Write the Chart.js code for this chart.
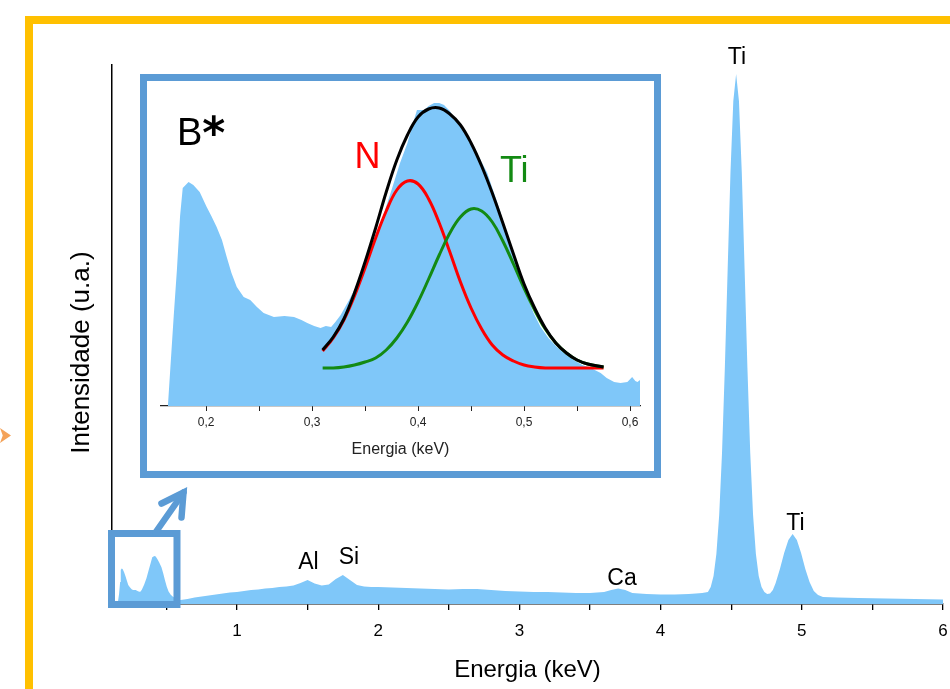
<!DOCTYPE html>
<html>
<head>
<meta charset="utf-8">
<script src="https://cdn.jsdelivr.net/npm/chart.js@4"></script>
<style>
html,body{margin:0;padding:0;background:#fff;overflow:hidden;width:950px;height:689px;}
#frame{position:absolute;left:25px;top:16px;width:1000px;height:1000px;border:8px solid #FFC000;box-sizing:border-box;}
#main{position:absolute;left:0;top:0;}
#insetBox{position:absolute;left:140px;top:74px;width:507px;height:390px;border:7px solid #5B9BD5;background:#fff;}
#inset{display:block;}
#orange{position:absolute;left:0;top:428px;width:11px;height:15px;background:#F4A35A;clip-path:polygon(0 0,100% 50%,0 100%,25% 50%);}
</style>
</head>
<body>
<div id="frame"></div>
<div id="orange"></div>
<canvas id="main" width="950" height="689"></canvas>
<div id="insetBox"><canvas id="inset" width="507" height="390"></canvas></div>
<script>
// ---------- main EDS spectrum (energy in keV, intensity in a.u.) ----------
const mainEnergy = [
  0.155,0.165,0.1725,0.177,0.1835,0.19,0.2,0.21,0.22,0.23,0.2417,0.254,0.264,0.283,0.2955,0.308,0.318,0.327,0.343,0.359,
  0.375,0.39,0.4,0.4151,0.4245,0.437,0.4495,0.4653,0.478,0.4906,0.503,0.5156,0.531,0.547,0.563,0.5723,0.585,0.6,
  0.65,0.7,0.75,0.8,0.85,0.9,0.95,1.0,1.05,1.1,1.15,1.2,1.25,1.3,1.35,1.4,1.45,1.5,1.55,1.6,1.65,1.7,1.75,1.8,1.85,1.9,1.95,2.0,2.1,2.2,
  2.3,2.4,2.5,2.6,2.7,2.8,2.9,3.0,3.1,3.2,3.3,3.4,3.5,3.6,3.65,3.7,3.75,3.8,3.9,4.0,4.1,4.2,4.25,4.295,
  4.335,4.355,4.375,4.395,4.415,4.435,4.455,4.475,4.495,4.515,4.535,4.555,4.575,4.595,4.615,4.635,4.655,4.675,4.695,4.715,4.735,4.755,4.775,
  4.795,4.815,4.845,4.875,4.905,4.935,4.965,4.995,5.025,5.055,5.085,5.115,5.15,5.25,5.4,5.6,5.8,6.0
];
const mainIntensity = [
  0,10,22,34,35.5,35,32,28,23.5,19,16.7,14.7,14,14,13,12.3,12.5,14.4,19.4,25.7,
  34,41.5,46.8,48,47.5,44.7,41.5,36.8,30.5,23.5,17.2,12.5,9.3,7.3,6,5.2,3.8,4,
  5,6.5,7.5,8.5,9.5,10.5,11.5,12,13,14,14.5,15.5,16,17,17.5,18.5,21,24,20.5,18.5,19.5,25,29,24,19,17.5,17,17,16.5,16,
  15.5,15,14.5,15,15,14,13,12.5,12,12,11.5,11,11,12,14,15.5,14,11,10,9.5,9.5,10,10.5,11,
  12,17,28,50,89,151,236,335,432,503,530,503,432,335,236,151,89,50,28,17,12,10,10.5,
  14,21,35,51,64,70,64,51,35,22,13,9,7,6.5,6,5.5,5,4.5
];
const mainTicksMajor = [1,2,3,4,5,6];
const peakLabels = ['Ti','Ti','Al','Si','Ca'];
const peakLabelEnergy = [4.541,4.955,1.506,1.793,3.727];
const peakLabelLevel = [540,74,35,40,19];

// ---------- inset: low-energy region 0.16 - 0.61 keV ----------
const insetEnergy = [
  0.164,0.1695,0.1725,0.1755,0.178,0.1835,0.188,0.194,0.2006,0.205,0.21,0.215,0.2195,0.224,0.229,0.2355,0.2417,0.248,0.2543,0.264,
  0.274,0.283,0.29,0.2955,0.302,0.308,0.313,0.318,0.322,0.327,0.335,0.343,0.351,0.359,0.367,0.375,0.383,0.39,0.395,0.399,
  0.4057,0.41,0.4151,0.42,0.4245,0.43,0.437,0.443,0.4495,0.457,0.4653,0.472,0.478,0.484,0.4906,0.497,0.503,0.509,0.5156,0.523,
  0.531,0.539,0.547,0.555,0.563,0.5723,0.578,0.585,0.591,0.5975,0.602,0.605,0.607,0.6094
];
const insetIntensity = [
  0,90,136,190,218,224,221,214,199,190,179,166,149,133,119,109,106,99,93,89,
  90,89,86,83,80,78,80,79,84,91,106,123,143,163,190,216,243,263,282,296,
  296,300,303,303,301,295,283,275,263,250,233,212,193,170,149,128,109,93,79,68,
  59,52,46,41,38,33,28,24,23,24,29,25,24,26
];
// Gaussian fit curves
const fitEnergy = [0.31,0.32,0.33,0.34,0.35,0.36,0.37,0.38,0.39,0.40,0.41,0.42,0.43,0.44,0.45,0.46,0.47,0.48,0.49,0.50,0.51,0.52,0.53,0.54,0.55,0.56,0.575];
const fitN   = [55,68,86,110,138,168,195,216,225,222,207,183,154,124,98,77,61,51,45,41,39,38,38,38,38,38,38];
const fitTi  = [38,38,39,41,44,48,56,68,84,104,127,151,173,189,197,195,184,165,142,118,96,77,63,53,46,42,39];
const fitSum = [56,69,87,113,144,178,214,246,271,289,297,298,292,281,263,240,213,183,152,122,98,78,63,53,46,42,39];
const insetLabels = ['N','Ti'];
const insetLabelEnergy = [0.3522,0.4908];
const insetLabelLevel = [238,224];
const insetLabelColors = ['#ff0000','#138a13'];

const SPEC_COLOR = '#7fc7f9';
const BLUE = '#5B9BD5';
Chart.defaults.font.family = '"Liberation Sans", Arial, sans-serif';
Chart.defaults.color = '#000';

const pts = (xs, ys) => xs.map((x, i) => ({x, y: ys[i]}));

const mainDecor = {
  id: 'mainDecor',
  afterDatasetsDraw(chart) {
    const {ctx, scales: {x, y}} = chart;
    ctx.save();
    // zoom box around the low-energy region
    const l = x.left - 0.5, r = x.getPixelForValue(0.6) - 3.5;
    const t = y.getPixelForValue(70.5), b = y.bottom + 0.5;
    ctx.strokeStyle = BLUE; ctx.lineWidth = 7; ctx.lineJoin = 'miter';
    ctx.strokeRect(l, t, r - l, b - t);
    // arrow to inset
    ctx.lineCap = 'round';
    ctx.lineWidth = 6.5;
    const sx = l + 44, sy = t - 1, tx = l + 72, ty = t - 41;
    ctx.beginPath(); ctx.moveTo(sx, sy); ctx.lineTo(tx, ty); ctx.stroke();
    ctx.beginPath(); ctx.moveTo(tx - 22, ty + 11); ctx.lineTo(tx, ty); ctx.lineTo(tx - 2, ty + 25); ctx.stroke();
    ctx.restore();
  },
  afterDraw(chart) {
    const {ctx, scales: {x, y}} = chart;
    ctx.save();
    ctx.font = '23px "Liberation Sans", Arial, sans-serif';
    ctx.fillStyle = '#000';
    ctx.textAlign = 'center';
    ctx.textBaseline = 'alphabetic';
    peakLabels.forEach((s, i) => {
      ctx.fillText(s, x.getPixelForValue(peakLabelEnergy[i]), y.getPixelForValue(peakLabelLevel[i]));
    });
    ctx.restore();
  }
};

new Chart(document.getElementById('main'), {
  type: 'line',
  data: { datasets: [{
    label: 'Espectro EDS',
    data: pts(mainEnergy, mainIntensity),
    backgroundColor: SPEC_COLOR,
    borderWidth: 0,
    pointRadius: 0,
    fill: 'origin',
    tension: 0
  }]},
  options: {
    responsive: false, animation: false, events: [],
    layout: { padding: { top: 65, left: 0, right: 7, bottom: 0 } },
    plugins: { legend: { display: false }, tooltip: { enabled: false } },
    scales: {
      x: {
        type: 'linear', min: 0.115, max: 6, z: 1,
        afterFit: s => { s.height = 85; },
        grid: { drawOnChartArea: false, drawTicks: true, tickLength: 6, color: '#000', lineWidth: 1.3 },
        border: { display: true, color: '#000', width: 1.5 },
        ticks: {
          stepSize: 0.5, includeBounds: false, autoSkip: false, maxRotation: 0, padding: 0,
          font: { size: 17, lineHeight: 2.45 }, color: '#000',
          callback: v => mainTicksMajor.includes(Math.round(v * 10) / 10) ? String(Math.round(v)) : ''
        },
        title: { display: true, text: 'Energia (keV)', font: { size: 24 }, color: '#000', padding: { top: 0, bottom: 4 } }
      },
      y: {
        min: 0, max: 539, z: 1,
        afterFit: s => { s.width = 112; },
        grid: { display: false },
        border: { display: true, color: '#000', width: 1.5 },
        ticks: { display: false },
        title: { display: true, text: 'Intensidade (u.a.)     ', font: { size: 26 }, color: '#000', padding: { top: 66, bottom: 0 } }
      }
    }
  },
  plugins: [mainDecor]
});

const insetDecor = {
  id: 'insetDecor',
  afterDraw(chart) {
    const {ctx, scales: {x, y}} = chart;
    ctx.save();
    ctx.textBaseline = 'alphabetic';
    ctx.textAlign = 'center';
    ctx.font = '36px "Liberation Sans", Arial, sans-serif';
    insetLabels.forEach((s, i) => {
      ctx.fillStyle = insetLabelColors[i];
      ctx.fillText(s, x.getPixelForValue(insetLabelEnergy[i]), y.getPixelForValue(insetLabelLevel[i]));
    });
    // panel tag "B*"
    ctx.fillStyle = '#000';
    ctx.textAlign = 'left';
    ctx.font = '38px "Liberation Sans", Arial, sans-serif';
    const bx = x.getPixelForValue(0.1726), by = y.getPixelForValue(261);
    ctx.fillText('B', bx, by);
    const w = ctx.measureText('B').width;
    ctx.font = 'bold 44px "DejaVu Sans", sans-serif';
    ctx.fillText('*', bx + w, by + 3);
    ctx.restore();
  }
};

new Chart(document.getElementById('inset'), {
  type: 'line',
  data: { datasets: [
    { label: 'Ajuste', data: pts(fitEnergy, fitSum), borderColor: '#000', borderWidth: 3, pointRadius: 0, fill: false, tension: 0.4, order: 1 },
    { label: 'Ti', data: pts(fitEnergy, fitTi), borderColor: '#138a13', borderWidth: 3, pointRadius: 0, fill: false, tension: 0.4, order: 2 },
    { label: 'N', data: pts(fitEnergy, fitN), borderColor: '#ff0000', borderWidth: 3, pointRadius: 0, fill: false, tension: 0.4, order: 3 },
    { label: 'Espectro', data: pts(insetEnergy, insetIntensity), backgroundColor: SPEC_COLOR, borderWidth: 0, pointRadius: 0, fill: 'origin', tension: 0, order: 4 }
  ]},
  options: {
    responsive: false, animation: false, events: [],
    layout: { padding: { top: 10, left: 14, right: 14, bottom: 0 } },
    plugins: { legend: { display: false }, tooltip: { enabled: false } },
    scales: {
      x: {
        type: 'linear', min: 0.1575, max: 0.6094, z: 1,
        afterFit: s => { s.height = 65; },
        grid: { drawOnChartArea: false, drawTicks: true, tickLength: 5, color: '#222', lineWidth: 1 },
        border: { display: true, color: '#222', width: 1.2 },
        ticks: {
          stepSize: 0.05, includeBounds: false, autoSkip: false, maxRotation: 0, padding: 0,
          font: { size: 12, lineHeight: 2 }, color: '#222',
          callback: v => { const t = Math.round(v * 100); return t % 10 === 0 ? (t / 100).toFixed(1).replace('.', ',') : ''; }
        },
        title: { display: true, text: 'Energia (keV)', font: { size: 16 }, color: '#222', padding: { top: 0, bottom: 12 } }
      },
      y: { display: false, min: 0, max: 315 }
    }
  },
  plugins: [insetDecor]
});
</script>
</body>
</html>
